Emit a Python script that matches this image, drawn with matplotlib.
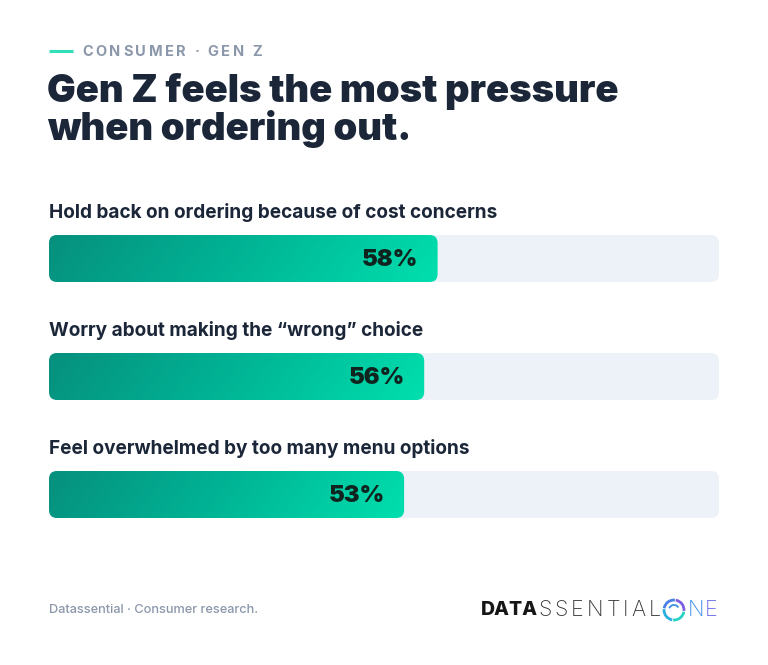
import numpy as np
import matplotlib
matplotlib.use('Agg')
import matplotlib.pyplot as plt
from matplotlib.patches import FancyBboxPatch, Arc
from matplotlib.colors import LinearSegmentedColormap

# Data
categories = [
    'Hold back on ordering because of cost concerns',
    'Worry about making the \u201cwrong\u201d choice',
    'Feel overwhelmed by too many menu options',
]
values = [58, 56, 53]
value_labels = ['58%', '56%', '53%']

kicker = 'CONSUMER \u00b7 GEN Z'
title_lines = ['Gen Z feels the most pressure', 'when ordering out.']
source = 'Datassential \u00b7 Consumer research.'

W, H = 768, 665
NAVY = '#1b2638'
GREY = '#8b97aa'
TRACK = '#edf2f9'
FONT = 'Inter'

fig = plt.figure(figsize=(W / 100, H / 100), dpi=100)
fig.patch.set_facecolor('white')
renderer = fig.canvas.get_renderer()

# background axes in pixel units for titles / footer
bg = fig.add_axes([0, 0, 1, 1])
bg.set_xlim(0, W)
bg.set_ylim(H, 0)
bg.axis('off')


def spaced(x0, x1, y, s, **kw):
    # draw text char by char, spread to fit between x0 and x1
    ts = [bg.text(0, y, ch, va='center', ha='left', **kw) for ch in s]
    ws = [t.get_window_extent(renderer).width if ch != ' ' else 3 for t, ch in zip(ts, s)]
    gap = (x1 - x0 - sum(ws)) / max(len(s) - 1, 1)
    x = x0
    for t, w in zip(ts, ws):
        t.set_x(x)
        x += w + gap


# kicker: teal line + letter-spaced text
bg.plot([49, 73], [51, 51], color='#2fe0b9', lw=2.2, solid_capstyle='butt')
spaced(82, 262, 52, kicker, fontsize=10.5, fontweight='bold', color=GREY, family=FONT)

# title
bg.text(47, 92, title_lines[0], fontsize=27.5, fontweight='black', color=NAVY,
        family=FONT, va='center', ha='left')
bg.text(47, 129, title_lines[1], fontsize=27.5, fontweight='black', color=NAVY,
        family=FONT, va='center', ha='left')

# bar axes
bar_left, bar_right = 49, 719
centers_px = [258.5, 376.5, 494.5]
step = 118
top_px = centers_px[0] - step / 2
bot_px = top_px + 3 * step
ax = fig.add_axes([bar_left / W, 1 - bot_px / H,
                   (bar_right - bar_left) / W, (bot_px - top_px) / H])
ax.set_xlim(0, 100)
ax.set_ylim(2.5, -0.5)
ax.axis('off')

bar_h = 47 / step
px_x = (bar_right - bar_left) / 100.0
aspect = (1 / step) / (1 / px_x)
rad = 8 / px_x

cmap = LinearSegmentedColormap.from_list('g', ['#06907e', '#00b595', '#00dfae'])

for i, (cat, v, lab) in enumerate(zip(categories, values, value_labels)):
    y0 = i - bar_h / 2
    track = FancyBboxPatch((0, y0), 100, bar_h,
                           boxstyle=f'round,pad=0,rounding_size={rad}',
                           mutation_aspect=aspect, fc=TRACK, ec='none')
    ax.add_patch(track)
    fill = FancyBboxPatch((0, y0), v, bar_h,
                          boxstyle=f'round,pad=0,rounding_size={rad}',
                          mutation_aspect=aspect, fc='none', ec='none')
    ax.add_patch(fill)
    gx = np.linspace(0, 1, 300)
    gy = np.linspace(0, 1, 20)
    G = gx[None, :] * 0.92 + gy[:, None] * 0.08
    im = ax.imshow(G, cmap=cmap, extent=(0, v, i + bar_h / 2, y0),
                   aspect='auto', interpolation='bilinear', zorder=2)
    im.set_clip_path(fill)
    ax.text(v - 19 / px_x, i + 0.01, lab, fontsize=17, fontweight='black',
            color='#10241f', family=FONT, va='center', ha='right', zorder=3)
    ax.text(0, i - bar_h / 2 - 22 / step, cat, fontsize=13.7, fontweight='bold',
            color=NAVY, family=FONT, va='center', ha='left')

# footer
bg.text(49, 610, source, fontsize=9.2, fontweight='medium', color=GREY, family=FONT,
        va='center', ha='left')

# logo
bg.text(481, 610, 'DATA', fontsize=14, fontweight='heavy', color='#161616',
        family=FONT, va='center', ha='left')
spaced(538, 661, 610, 'SSENTIAL', fontsize=15.5, fontweight='light',
       color='#3a3a3a', family=FONT)
cx = 674
ring_cols = ['#2ad3c4', '#2ab0e0', '#4a7fe6', '#7c5fe0']
for k in range(4):
    bg.add_patch(Arc((cx, 610), 20, 20, theta1=k * 90 + 10, theta2=k * 90 + 95,
                     color=ring_cols[k], lw=2))
bg.add_patch(Arc((cx, 610), 10, 10, theta1=200, theta2=330, color='#3a8fe0', lw=1.3))
bg.text(688, 610, 'N', fontsize=15.5, fontweight='light', color='#3f8fe8',
        family=FONT, va='center', ha='left')
bg.text(705, 610, 'E', fontsize=15.5, fontweight='light', color='#6a6ee6',
        family=FONT, va='center', ha='left')

fig.savefig('out.png', dpi=100)
